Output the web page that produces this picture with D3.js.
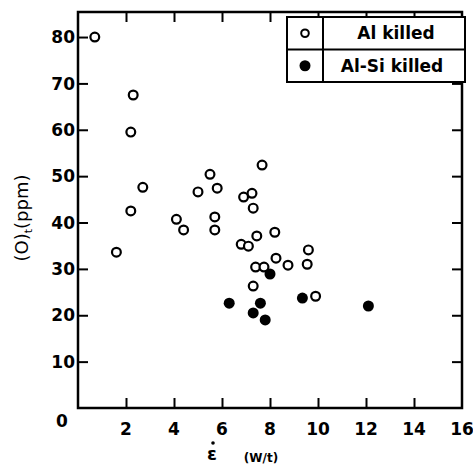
<!DOCTYPE html>
<html><head><meta charset="utf-8">
<script src="https://cdn.jsdelivr.net/npm/d3@7"></script>
<style>body{margin:0;background:#fff}svg{display:block}</style>
</head><body>
<script>
const xTicks = [2,4,6,8,10,12,14,16];
const yTicks = [10,20,30,40,50,60,70,80];
const alX = [0.7,2.3,2.2,2.7,2.2,1.6,7.67,5.5,5.0,5.8,6.9,7.25,7.3,4.1,4.4,5.7,5.7,8.2,7.45,6.8,7.1,9.6,8.25,8.75,9.55,7.4,7.75,7.3,9.9];
const alY = [80,67.5,59.5,47.6,42.5,33.6,52.4,50.4,46.6,47.4,45.5,46.3,43.1,40.7,38.4,41.2,38.4,37.9,37.1,35.3,34.9,34.1,32.3,30.8,31.0,30.4,30.4,26.3,24.1];
const alsiX = [8.0,6.3,7.6,9.35,7.3,7.8,12.1];
const alsiY = [28.9,22.6,22.6,23.7,20.5,19.0,22.0];
const legendLabels = ["Al killed","Al-Si killed"];

const W=473,H=466;
const L=78,R=462,T=12,B=408;
const svg=d3.select("body").append("svg").attr("width",W).attr("height",H);
const x=d3.scaleLinear().domain([0,16]).range([L,R]);
const y=d3.scaleLinear().domain([0,85.4]).range([B,T]);
const font="'DejaVu Sans', sans-serif";

// frame
svg.append("rect").attr("x",L).attr("y",T).attr("width",R-L).attr("height",B-T)
  .attr("fill","none").attr("stroke","#000").attr("stroke-width",2.5);

const tl=10;
function styleAxis(g){g.select(".domain").remove();g.selectAll("line").attr("stroke-width",2);}
styleAxis(svg.append("g").attr("transform",`translate(${L},0)`)
  .call(d3.axisRight(y).tickValues(yTicks).tickSize(tl).tickFormat("")));
styleAxis(svg.append("g").attr("transform",`translate(${R},0)`)
  .call(d3.axisLeft(y).tickValues(yTicks).tickSize(tl).tickFormat("")));
styleAxis(svg.append("g").attr("transform",`translate(0,${B})`)
  .call(d3.axisTop(x).tickValues(xTicks.slice(0,-1)).tickSize(tl).tickFormat("")));
styleAxis(svg.append("g").attr("transform",`translate(0,${T})`)
  .call(d3.axisBottom(x).tickValues(xTicks.slice(0,-1)).tickSize(tl).tickFormat("")));

// tick labels
svg.append("g").selectAll("text").data(yTicks).join("text")
  .attr("x",L-3).attr("y",d=>y(d)).attr("dy","0.36em").attr("text-anchor","end")
  .attr("font-family",font).attr("font-size",17).attr("font-weight","bold").text(d=>d);
svg.append("g").selectAll("text").data(xTicks).join("text")
  .attr("x",d=>x(d)).attr("y",B+27).attr("text-anchor","middle")
  .attr("font-family",font).attr("font-size",17).attr("font-weight","bold").text(d=>d);
svg.append("text").attr("x",L-16).attr("y",B+19).attr("text-anchor","middle")
  .attr("font-family",font).attr("font-size",17).attr("font-weight","bold").text("0");

// axis titles
svg.append("text").attr("x",212).attr("y",460).attr("text-anchor","middle").attr("font-family",font)
  .attr("font-size",18).attr("font-weight","bold").text("ε");
svg.append("circle").attr("cx",213).attr("cy",443).attr("r",1.8).attr("fill","#000");
svg.append("text").attr("x",261).attr("y",462).attr("text-anchor","middle").attr("font-family",font)
  .attr("font-size",12).attr("font-weight","bold").text("(W/t)");
const yt=svg.append("text").attr("transform","translate(28,218) rotate(-90)").attr("text-anchor","middle")
  .attr("font-family",font).attr("font-size",18);
yt.append("tspan").text("(O)");
yt.append("tspan").attr("font-size",11).attr("dy",4).text("t");
yt.append("tspan").attr("dy",-4).text("(ppm)");

// points
svg.append("g").selectAll("circle").data(alX).join("circle")
  .attr("cx",d=>x(d)).attr("cy",(d,i)=>y(alY[i])).attr("r",4.4)
  .attr("fill","#fff").attr("stroke","#000").attr("stroke-width",2.2);
svg.append("g").selectAll("circle").data(alsiX).join("circle")
  .attr("cx",d=>x(d)).attr("cy",(d,i)=>y(alsiY[i])).attr("r",5.5).attr("fill","#000");

// legend
const lx=287,ly=17,lw=178,lh=65,lsep=323;
const lg=svg.append("g");
lg.append("rect").attr("x",lx).attr("y",ly).attr("width",lw).attr("height",lh)
  .attr("fill","#fff").attr("stroke","#000").attr("stroke-width",2);
lg.append("line").attr("x1",lx).attr("x2",lx+lw).attr("y1",ly+lh/2).attr("y2",ly+lh/2).attr("stroke","#000").attr("stroke-width",2);
lg.append("line").attr("x1",lsep).attr("x2",lsep).attr("y1",ly).attr("y2",ly+lh).attr("stroke","#000").attr("stroke-width",2);
lg.append("circle").attr("cx",305).attr("cy",ly+lh/4).attr("r",3.8).attr("fill","#fff").attr("stroke","#000").attr("stroke-width",2);
lg.append("circle").attr("cx",305).attr("cy",ly+3*lh/4).attr("r",5.5).attr("fill","#000");
lg.selectAll("text.lab").data(legendLabels).join("text").attr("class","lab")
  .attr("x",(d,i)=>i?392:396).attr("y",(d,i)=>ly+lh/4+i*lh/2).attr("dy","0.36em").attr("text-anchor","middle")
  .attr("font-family",font).attr("font-size",17).attr("font-weight","bold").text(d=>d);
</script>
</body></html>
